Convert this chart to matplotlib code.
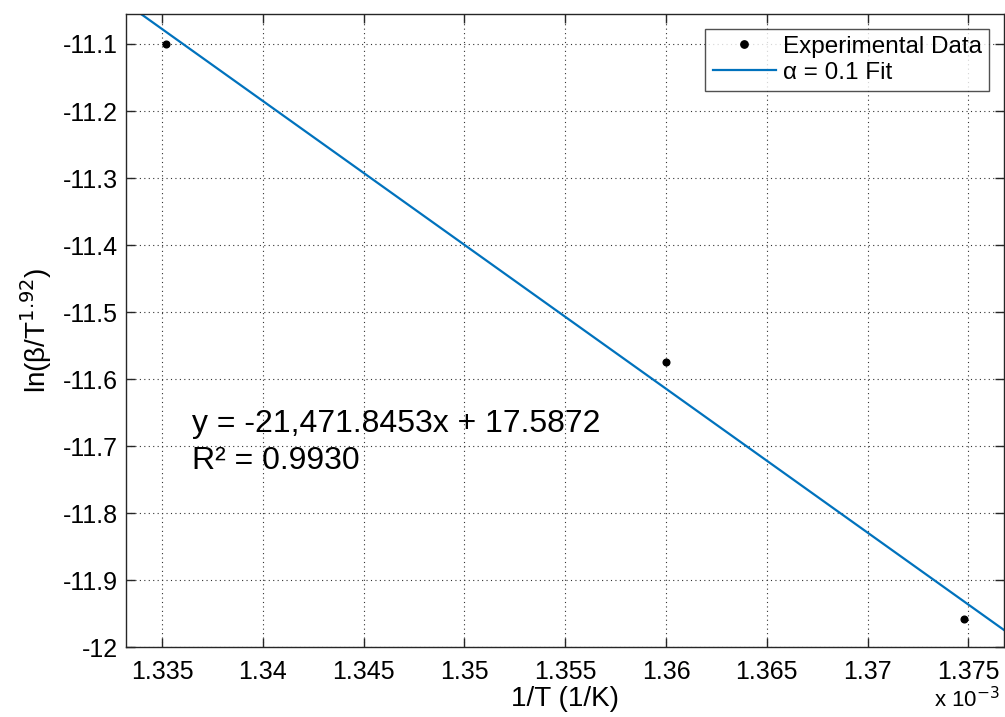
import numpy as np
import matplotlib.pyplot as plt
from matplotlib.ticker import FuncFormatter

plt.rcParams['font.family'] = ['Liberation Sans', 'DejaVu Sans']

# data
inv_T = [1.3352e-3, 1.3600e-3, 1.3748e-3]
ln_beta = [-11.100, -11.575, -11.958]

slope = -21471.8453
intercept = 17.5872
r2 = 0.9930

x_ticks = [1.335e-3, 1.34e-3, 1.345e-3, 1.35e-3, 1.355e-3, 1.36e-3, 1.365e-3, 1.37e-3, 1.375e-3]
y_ticks = [-12, -11.9, -11.8, -11.7, -11.6, -11.5, -11.4, -11.3, -11.2, -11.1]

xlim = (1.33321e-3, 1.37677e-3)
ylim = (-12, -11.0552)

fig = plt.figure(figsize=(10.05, 7.17), dpi=100)
ax = fig.add_axes([0.1254, 0.0976, 0.8736, 0.8829])

ax.plot(inv_T, ln_beta, 'o', color='black', markersize=4.8, linestyle='none',
        label='Experimental Data')
xfit = np.array(xlim)
ax.plot(xfit, slope * xfit + intercept, color='#0072BD', linewidth=1.6,
        label='α = 0.1 Fit')

ax.set_xlim(xlim)
ax.set_ylim(ylim)
ax.set_xticks(x_ticks)
ax.set_yticks(y_ticks)
ax.xaxis.set_major_formatter(FuncFormatter(lambda v, p: '%g' % round(v * 1e3, 4)))
ax.yaxis.set_major_formatter(FuncFormatter(lambda v, p: '%g' % round(v, 2)))

ax.grid(True, linestyle=(0, (1, 3)), color='#333333', linewidth=0.8)
ax.tick_params(axis='both', direction='in', length=6.5, width=1, top=True, right=True,
               labelsize=18, colors='#262626', labelcolor='black')
ax.tick_params(axis='x', pad=9)
ax.tick_params(axis='y', pad=6)
for s in ax.spines.values():
    s.set_color('#262626')
    s.set_linewidth(1)

ax.set_xlabel('1/T (1/K)', fontsize=20, labelpad=2)
ax.set_ylabel('ln(β/T$^{1.92}$)', fontsize=20, labelpad=6)

# exponent label, sits in the bottom right corner
fig.text(0.995, 0.006, r'x 10$^{-3}$', fontsize=16, ha='right', va='bottom')

ax.text(1.33649e-3, -11.679, 'y = -21,471.8453x + 17.5872', fontsize=23,
        va='baseline', ha='left')
ax.text(1.33649e-3, -11.734, 'R² = %.4f' % r2, fontsize=23,
        va='baseline', ha='left')

leg = ax.legend(loc='upper right', fontsize=17.5, frameon=True, fancybox=False,
                borderaxespad=0.6, handlelength=2.6, handletextpad=0.3,
                borderpad=0.3, labelspacing=0.15, markerscale=1.1)
leg.get_frame().set_edgecolor('#262626')
leg.get_frame().set_linewidth(1)

fig.savefig('out.png', dpi=100)
